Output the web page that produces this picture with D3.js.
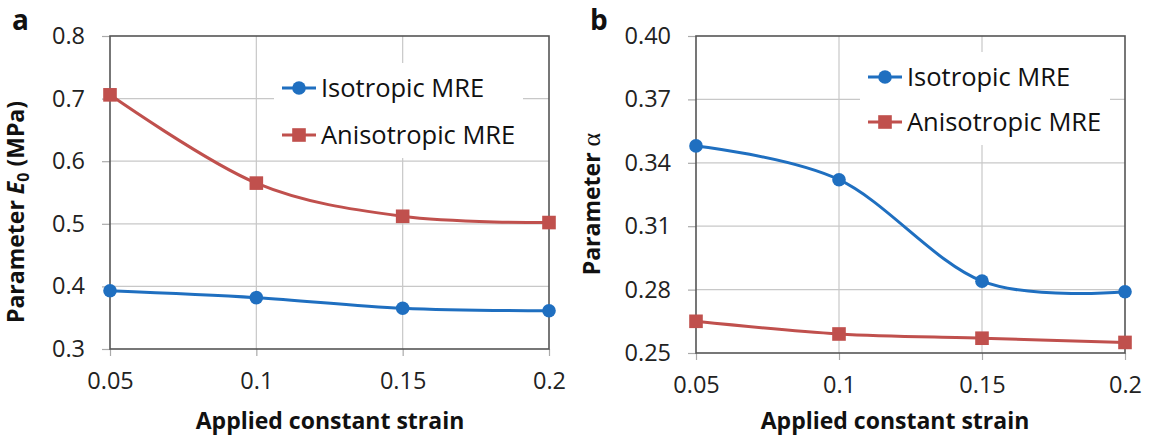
<!DOCTYPE html>
<meta charset='utf-8'>
<head>
<script src='https://d3js.org/d3.v7.min.js'></script>
<style>
  body{ margin: 0; background: #fff; }
  svg{ display: block; font-family: 'Open Sans', sans-serif; }
</style>
</head>
<body>
<svg id="chart" width="1150" height="438"></svg>
<script>

  // data
  var strain = [0.05, 0.1, 0.15, 0.2];
  var strainLabels = ['0.05', '0.1', '0.15', '0.2'];
  var seriesNames = ['Isotropic MRE', 'Anisotropic MRE'];

  var e0Isotropic = [0.393, 0.382, 0.365, 0.361];
  var e0Anisotropic = [0.706, 0.565, 0.512, 0.502];
  var e0Ticks = [0.3, 0.4, 0.5, 0.6, 0.7, 0.8];

  var alphaIsotropic = [0.348, 0.332, 0.284, 0.279];
  var alphaAnisotropic = [0.265, 0.259, 0.257, 0.255];
  var alphaTicks = [0.25, 0.28, 0.31, 0.34, 0.37, 0.40];

  var blue = '#1f6fc0',
      red = '#c0504d',
      gridColor = '#c8c8c8',
      axisColor = '#555';

  var svg = d3.select('#chart');

  // one panel of the figure
  function drawPanel(opt) {
    var g = svg.append('g');

    var x = d3.scaleLinear().domain([0.05, 0.2]).range([opt.left, opt.right]);
    var y = d3.scaleLinear().domain([opt.ticks[0], opt.ticks[opt.ticks.length - 1]])
              .range([opt.bottom, opt.top]);

    // grid
    g.append('g').selectAll('line.hgrid')
      .data(opt.ticks.slice(1, -1)).enter().append('line')
      .attr('x1', opt.left).attr('x2', opt.right)
      .attr('y1', function(d) { return y(d); }).attr('y2', function(d) { return y(d); })
      .attr('stroke', gridColor).attr('stroke-width', 1.2);

    g.append('g').selectAll('line.vgrid')
      .data(strain.slice(1, -1)).enter().append('line')
      .attr('y1', opt.top).attr('y2', opt.bottom)
      .attr('x1', function(d) { return x(d); }).attr('x2', function(d) { return x(d); })
      .attr('stroke', gridColor).attr('stroke-width', 1.2);

    // legend background hides grid behind it
    g.append('rect')
      .attr('x', opt.legend.x).attr('y', opt.legend.y)
      .attr('width', opt.legend.w).attr('height', opt.legend.h)
      .attr('fill', '#fff');

    // axes
    var yAxis = d3.axisLeft(y).tickValues(opt.ticks).tickSize(8)
      .tickFormat(function(d) { return opt.fmt(d); });
    var yG = g.append('g').attr('transform', 'translate(' + opt.left + ',0)').call(yAxis);

    var xAxis = d3.axisBottom(x).tickValues(strain).tickSize(7)
      .tickFormat(function(d, i) { return strainLabels[i]; });
    var xG = g.append('g').attr('transform', 'translate(0,' + opt.bottom + ')').call(xAxis);

    [yG, xG].forEach(function(a) {
      a.select('.domain').remove();
      a.selectAll('line').attr('stroke', '#aaa').attr('stroke-width', 1.2);
      a.selectAll('text').attr('font-size', 23.5).attr('fill', '#222')
        .attr('font-family', "'Open Sans', sans-serif");
    });
    yG.selectAll('text').attr('x', -25);
    xG.selectAll('text').attr('y', 23);

    // plot frame
    g.append('rect')
      .attr('x', opt.left).attr('y', opt.top)
      .attr('width', opt.right - opt.left).attr('height', opt.bottom - opt.top)
      .attr('fill', 'none').attr('stroke', axisColor).attr('stroke-width', 1.6);

    var line = d3.line()
      .x(function(d, i) { return x(strain[i]); })
      .y(function(d) { return y(d); })
      .curve(d3.curveCardinal.tension(0));

    var series = [
      {name: seriesNames[0], values: opt.iso, color: blue, shape: 'circle'},
      {name: seriesNames[1], values: opt.aniso, color: red, shape: 'square'}
    ];

    series.forEach(function(s) {
      g.append('path')
        .datum(s.values)
        .attr('d', line)
        .attr('fill', 'none')
        .attr('stroke', s.color)
        .attr('stroke-width', 3);

      drawMarkers(g.append('g'), s.values.map(function(v, i) {
        return [x(strain[i]), y(v)];
      }), s);
    });

    // legend
    series.forEach(function(s, i) {
      var ly = opt.legend.rows[i];
      var lx = opt.legend.x + 8;
      var lg = g.append('g');
      lg.append('line')
        .attr('x1', lx).attr('x2', lx + 34)
        .attr('y1', ly).attr('y2', ly)
        .attr('stroke', s.color).attr('stroke-width', 3);
      drawMarkers(lg, [[lx + 17, ly]], s);
      lg.append('text')
        .attr('x', lx + 39).attr('y', ly)
        .attr('dy', '0.35em')
        .attr('font-size', 25.5)
        .attr('fill', '#111')
        .text(s.name);
    });

    // x title
    g.append('text')
      .attr('x', opt.xTitleX).attr('y', 429)
      .attr('text-anchor', 'middle')
      .attr('font-size', 23).attr('font-weight', 'bold')
      .attr('fill', '#111')
      .text('Applied constant strain');

    // y title
    var yt = g.append('text')
      .attr('transform', 'translate(' + opt.yTitle[0] + ',' + opt.yTitle[1] + ') rotate(-90)')
      .attr('text-anchor', 'middle')
      .attr('font-size', 23).attr('font-weight', 'bold')
      .attr('fill', '#111');
    opt.yTitleParts(yt);

    // panel letter
    g.append('text')
      .attr('x', opt.letter[0]).attr('y', opt.letter[1])
      .attr('font-size', 28).attr('font-weight', 'bold')
      .attr('fill', '#111')
      .text(opt.letter[2]);
  }

  function drawMarkers(sel, pts, s) {
    if (s.shape === 'circle') {
      sel.selectAll('circle').data(pts).enter().append('circle')
        .attr('cx', function(d) { return d[0]; })
        .attr('cy', function(d) { return d[1]; })
        .attr('r', 6.8)
        .attr('fill', s.color);
    } else {
      sel.selectAll('rect').data(pts).enter().append('rect')
        .attr('x', function(d) { return d[0] - 6.8; })
        .attr('y', function(d) { return d[1] - 6.8; })
        .attr('width', 13.6).attr('height', 13.6)
        .attr('fill', s.color);
    }
  }

  drawPanel({
    left: 110, right: 549, top: 36, bottom: 349,
    ticks: e0Ticks, fmt: d3.format('.1f'),
    iso: e0Isotropic, aniso: e0Anisotropic,
    legend: {x: 274, y: 63, w: 249, h: 95, rows: [88, 135]},
    xTitleX: 330,
    yTitle: [24, 212],
    yTitleParts: function(t) {
      t.append('tspan').text('Parameter ');
      t.append('tspan').attr('font-style', 'italic').text('E');
      t.append('tspan').attr('font-size', 16).attr('dy', 5).text('0');
      t.append('tspan').attr('dy', -5).text(' (MPa)');
    },
    letter: [12, 30, 'a']
  });

  drawPanel({
    left: 696, right: 1125, top: 36, bottom: 353,
    ticks: alphaTicks, fmt: d3.format('.2f'),
    iso: alphaIsotropic, aniso: alphaAnisotropic,
    legend: {x: 860, y: 52, w: 250, h: 93, rows: [77, 122]},
    xTitleX: 895,
    yTitle: [600, 204],
    yTitleParts: function(t) {
      t.append('tspan').text('Parameter ');
      t.append('tspan').attr('font-weight', 'normal')
        .attr('font-family', "'Liberation Serif', serif").attr('font-size', 26).text('α');
    },
    letter: [590, 30, 'b']
  });

</script>
</body>
</html>
